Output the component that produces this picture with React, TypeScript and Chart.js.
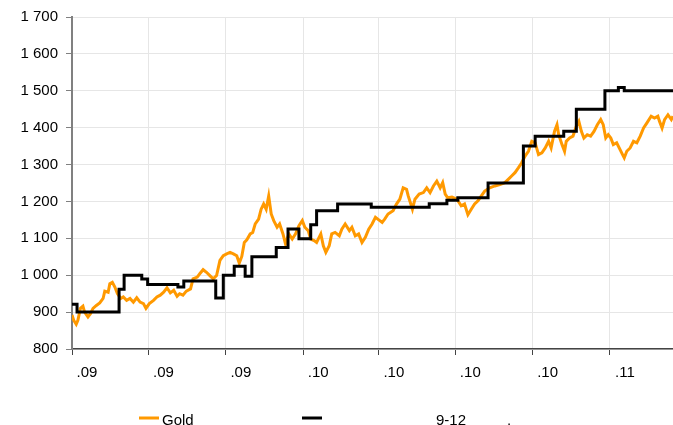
import React, { useEffect, useRef } from "react";
import { Chart, registerables } from "chart.js";

Chart.register(...registerables);

// ---- Data (x = days since 1 Apr 2009) ----
const tickDays = [0, 91, 183, 275, 365, 456, 548, 640];
const tickLabels = [".09", ".09", ".09", ".10", ".10", ".10", ".10", ".11"];
const xMax = 715;

const goldDays = [
  0, 2, 5, 7, 10, 13, 15, 19, 22, 25, 29, 33, 37, 39, 43, 45, 48, 51, 54, 58,
  61, 65, 69, 73, 77, 81, 85, 88, 92, 97, 101, 105, 109, 113, 117, 121, 125, 128, 132, 136,
  141, 144, 149, 152, 156, 160, 164, 168, 172, 176, 180, 184, 188, 192, 196, 199, 202, 205, 208, 212,
  215, 218, 222, 225, 228, 231, 234, 237, 240, 244, 247, 251, 254, 258, 262, 266, 270, 274, 277, 281,
  284, 288, 291, 296, 299, 302, 306, 309, 313, 318, 321, 325, 330, 333, 337, 341, 345, 349, 353, 357,
  361, 365, 369, 372, 376, 382, 386, 390, 394, 398, 400, 405, 408, 413, 418, 422, 426, 430, 434, 438,
  441, 444, 447, 452, 458, 463, 467, 471, 475, 479, 483, 487, 491, 497, 503, 509, 515, 519, 523, 527,
  531, 535, 539, 543, 547, 551, 555, 559, 563, 567, 570, 574, 577, 579, 583, 586, 588, 592, 596, 600,
  603, 606, 609, 613, 617, 621, 625, 629, 632, 635, 638, 641, 644, 648, 651, 655, 657, 660, 664, 668,
  672, 676, 680, 684, 689, 693, 697, 699, 702, 705, 709, 713, 715,
];
const goldValues = [
  892, 878, 867, 878, 910, 916, 900, 887, 896, 910, 918, 925, 937, 957, 954, 977, 981, 968, 950, 937,
  941, 932, 937, 927, 939, 927, 923, 910, 923, 932, 941, 946, 954, 966, 952, 959, 943, 950, 946, 957,
  963, 990, 995, 1004, 1015, 1008, 999, 990, 999, 1040, 1053, 1058, 1062, 1058, 1053, 1033, 1051, 1089, 1096, 1112,
  1116, 1139, 1152, 1179, 1193, 1179, 1215, 1166, 1148, 1130, 1139, 1112, 1085, 1112, 1098, 1112, 1134, 1148, 1130, 1121,
  1098, 1094, 1089, 1112, 1080, 1062, 1080, 1112, 1116, 1107, 1125, 1139, 1121, 1130, 1107, 1112, 1089, 1103, 1125, 1139,
  1157, 1150, 1143, 1152, 1166, 1175, 1193, 1206, 1237, 1233, 1215, 1179, 1206, 1220, 1224, 1237, 1224, 1242, 1255, 1237,
  1251, 1220, 1210, 1212, 1206, 1188, 1193, 1164, 1179, 1193, 1202, 1215, 1228, 1237, 1242, 1246, 1251, 1260, 1269, 1278,
  1291, 1305, 1323, 1336, 1363, 1359, 1327, 1332, 1345, 1363, 1345, 1390, 1408, 1381, 1354, 1336, 1363, 1372, 1377, 1404,
  1417, 1390, 1372, 1381, 1377, 1390, 1408, 1422, 1408, 1372, 1381, 1372, 1354, 1359, 1345, 1327, 1318, 1336, 1345, 1363,
  1359, 1377, 1399, 1413, 1431, 1426, 1431, 1417, 1399, 1422, 1435, 1422, 1431,
];

const forecastDays = [
  0, 6, 56, 62, 83, 90, 126, 133, 171, 180, 193, 206, 214, 243, 257, 270, 284, 291, 316, 356,
  425, 446, 459, 495, 537, 551, 585, 600, 634, 650, 657, 715,
];
const forecastValues = [
  921, 900, 962, 1000, 990, 975, 968, 984, 938, 1000, 1024, 997, 1050, 1075, 1125, 1099, 1137, 1175, 1193, 1184,
  1194, 1203, 1210, 1250, 1350, 1377, 1390, 1450, 1500, 1509, 1500, 1500,
];

const goldLabel = "Gold";
const forecastLabelParts = ["9-12", "."];
const goldColor = "#FF9900";
const forecastColor = "#000000";

const FONT = "'Liberation Sans', Arial, sans-serif";

const formatThousands = (v: number) => {
  if (v >= 1000) {
    const th = Math.floor(v / 1000);
    const rest = String(Math.round(v % 1000)).padStart(3, "0");
    return `${th} ${rest}`;
  }
  return String(v);
};

const legendPlugin = {
  id: "customLegend",
  afterDraw(chart: any) {
    const ctx = chart.ctx as CanvasRenderingContext2D;
    ctx.save();
    ctx.font = `15px ${FONT}`;
    ctx.fillStyle = "#000";
    ctx.textBaseline = "alphabetic";
    const lineY = 418;
    const textY = 425;
    // Gold
    ctx.strokeStyle = goldColor;
    ctx.lineWidth = 3;
    ctx.beginPath();
    ctx.moveTo(139, lineY);
    ctx.lineTo(159, lineY);
    ctx.stroke();
    ctx.fillText(goldLabel, 162, textY);
    // Forecast
    ctx.strokeStyle = forecastColor;
    ctx.beginPath();
    ctx.moveTo(302, lineY);
    ctx.lineTo(322, lineY);
    ctx.stroke();
    ctx.fillText(forecastLabelParts[0], 436, textY);
    ctx.fillText(forecastLabelParts[1], 507, textY);
    ctx.restore();
  },
};

export default function App() {
  const canvasRef = useRef<HTMLCanvasElement | null>(null);

  useEffect(() => {
    document.body.style.margin = "0";
    const canvas = canvasRef.current;
    if (!canvas) return;
    Chart.defaults.font.family = FONT;
    Chart.defaults.font.size = 15;
    Chart.defaults.color = "#000";

    const chart = new Chart(canvas, {
      type: "line",
      data: {
        datasets: [
          {
            label: goldLabel,
            data: goldDays.map((d, i) => ({ x: d, y: goldValues[i] })),
            borderColor: goldColor,
            borderWidth: 3,
            pointRadius: 0,
            tension: 0,
            order: 2,
          },
          {
            label: forecastLabelParts.join(" "),
            data: forecastDays.map((d, i) => ({ x: d, y: forecastValues[i] })),
            borderColor: forecastColor,
            borderWidth: 3,
            pointRadius: 0,
            stepped: true,
            order: 1,
          },
        ],
      },
      options: {
        animation: false,
        responsive: true,
        maintainAspectRatio: false,
        layout: { padding: { left: 0, right: 0, top: 15, bottom: 0 } },
        plugins: {
          legend: { display: false },
          tooltip: { enabled: false },
        },
        scales: {
          x: {
            type: "linear",
            min: 0,
            max: xMax,
            afterBuildTicks: (scale: any) => {
              scale.ticks = tickDays.map((v) => ({ value: v }));
            },
            afterFit: (scale: any) => {
              scale.height = 76;
            },
            ticks: {
              autoSkip: false,
              maxRotation: 0,
              minRotation: 0,
              labelOffset: 15,
              padding: 9,
              color: "#000",
              font: { size: 15, family: FONT },
              callback: (_v: any, index: number) => tickLabels[index],
            },
            grid: {
              color: "#e6e6e6",
              lineWidth: 1,
              tickColor: "#444",
              tickLength: 6,
              drawTicks: true,
            },
            border: { color: "#444", width: 1.5 },
          },
          y: {
            type: "linear",
            min: 800,
            max: 1700,
            afterFit: (scale: any) => {
              scale.width = 72;
            },
            ticks: {
              stepSize: 100,
              autoSkip: false,
              padding: 8,
              color: "#000",
              font: { size: 15, family: FONT },
              callback: (v: any) => formatThousands(Number(v)),
            },
            grid: {
              color: "#e6e6e6",
              lineWidth: 1,
              tickColor: "#808080",
              tickLength: 6,
            },
            border: { color: "#808080", width: 2 },
          },
        },
      },
      plugins: [legendPlugin],
    });

    return () => chart.destroy();
  }, []);

  return (
    <div style={{ width: 673, height: 425, position: "relative", overflow: "hidden" }}>
      <canvas ref={canvasRef} style={{ display: "block" }} />
    </div>
  );
}
